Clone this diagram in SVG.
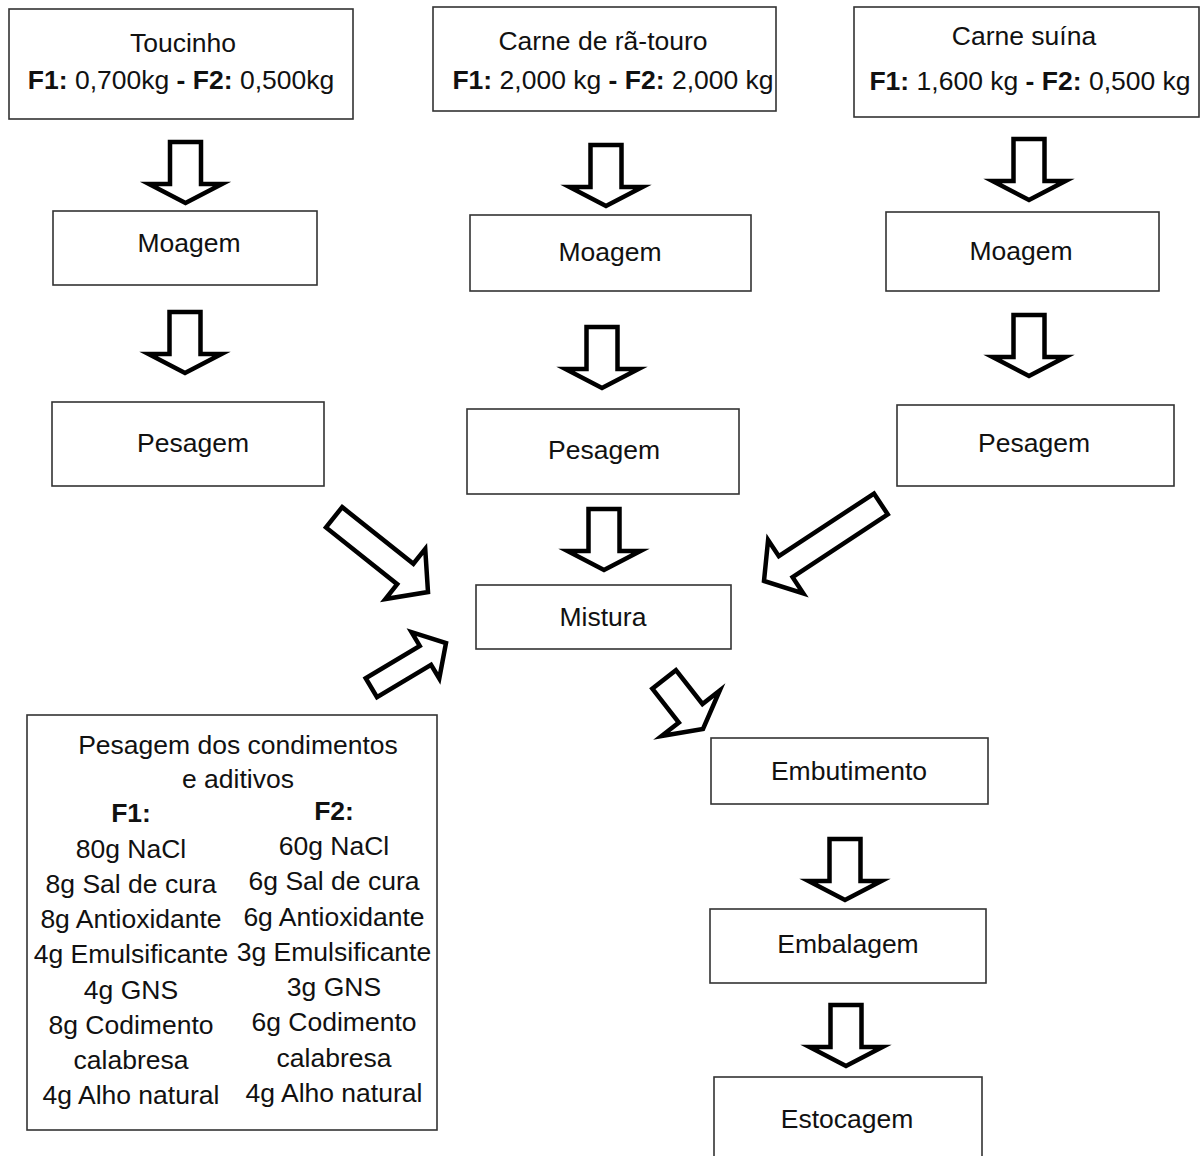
<svg xmlns="http://www.w3.org/2000/svg" width="1202" height="1156" viewBox="0 0 1202 1156">
<style>
.box{fill:#fff;stroke:#333;stroke-width:1.6}
.t{font-family:"Liberation Sans",Arial,sans-serif;font-size:26.5px;fill:#111;text-anchor:middle}
.b{font-weight:bold}
.arr{fill:#fff;stroke:#000;stroke-width:4.5;stroke-linejoin:miter;stroke-miterlimit:10}
</style>
<defs>
<path id="down" d="M-15.5,0 H15.5 V42 H36.5 L0,61 L-36.5,42 H-15.5 Z"/>
</defs>
<rect width="1202" height="1156" fill="#fff"/>
<g id="connectors">
<use href="#down" class="arr" transform="translate(185.5,142)"/>
<use href="#down" class="arr" transform="translate(606,145)"/>
<use href="#down" class="arr" transform="translate(1029,139)"/>
<use href="#down" class="arr" transform="translate(185,312)"/>
<use href="#down" class="arr" transform="translate(602,327)"/>
<use href="#down" class="arr" transform="translate(1029,315)"/>
<use href="#down" class="arr" transform="translate(604,509)"/>
<use href="#down" class="arr" transform="translate(845,839)"/>
<use href="#down" class="arr" transform="translate(846,1005)"/>
<path class="arr" transform="translate(428,592) rotate(38.5)" d="M-120,-13 H-29 V-32 L0,0 L-29,32 V13 H-120 Z"/>
<path class="arr" transform="translate(764,581) rotate(146.6)" d="M-140,-12.5 H-26 V-32 L0,0 L-26,32 V12.5 H-140 Z"/>
<path class="arr" transform="translate(446,643) rotate(-30.9)" d="M-87,-11 H-24 V-27 L0,0 L-24,27 V11 H-87 Z"/>
<path class="arr" transform="translate(703,729) rotate(51.9)" d="M-63,-15 H-20 V-37 L0,0 L-20,37 V15 H-63 Z"/>
</g>
<g id="toucinho">
<rect class="box" x="9" y="9" width="344" height="110"/>
<text class="t" x="183" y="52">Toucinho</text>
<text class="t" x="181" y="89"><tspan class="b">F1:</tspan> 0,700kg <tspan class="b">-</tspan> <tspan class="b">F2:</tspan> 0,500kg</text>
</g>
<g id="carne-ra">
<rect class="box" x="433" y="7" width="343" height="104"/>
<text class="t" x="603" y="50">Carne de rã-touro</text>
<text class="t" x="613" y="89"><tspan class="b">F1:</tspan> 2,000 kg <tspan class="b">-</tspan> <tspan class="b">F2:</tspan> 2,000 kg</text>
</g>
<g id="carne-suina">
<rect class="box" x="854" y="7" width="345" height="110"/>
<text class="t" x="1024" y="45">Carne suína</text>
<text class="t" x="1030" y="90"><tspan class="b">F1:</tspan> 1,600 kg <tspan class="b">-</tspan> <tspan class="b">F2:</tspan> 0,500 kg</text>
</g>
<g id="moagem-1">
<rect class="box" x="53" y="211" width="264" height="74"/>
<text class="t" x="189" y="252">Moagem</text>
</g>
<g id="moagem-2">
<rect class="box" x="470" y="215" width="281" height="76"/>
<text class="t" x="610" y="261">Moagem</text>
</g>
<g id="moagem-3">
<rect class="box" x="886" y="212" width="273" height="79"/>
<text class="t" x="1021" y="260">Moagem</text>
</g>
<g id="pesagem-1">
<rect class="box" x="52" y="402" width="272" height="84"/>
<text class="t" x="193" y="452">Pesagem</text>
</g>
<g id="pesagem-2">
<rect class="box" x="467" y="409" width="272" height="85"/>
<text class="t" x="604" y="459">Pesagem</text>
</g>
<g id="pesagem-3">
<rect class="box" x="897" y="405" width="277" height="81"/>
<text class="t" x="1034" y="452">Pesagem</text>
</g>
<g id="mistura">
<rect class="box" x="476" y="585" width="255" height="64"/>
<text class="t" x="603" y="626">Mistura</text>
</g>
<g id="condimentos">
<rect class="box" x="27" y="715" width="410" height="415"/>
<text class="t" x="238" y="754">Pesagem dos condimentos</text>
<text class="t" x="238" y="788">e aditivos</text>
<text class="t b" x="131" y="822">F1:</text>
<text class="t" x="131" y="858">80g NaCl</text>
<text class="t" x="131" y="893">8g Sal de cura</text>
<text class="t" x="131" y="928">8g Antioxidante</text>
<text class="t" x="131" y="963">4g Emulsificante</text>
<text class="t" x="131" y="999">4g GNS</text>
<text class="t" x="131" y="1034">8g Codimento</text>
<text class="t" x="131" y="1069">calabresa</text>
<text class="t" x="131" y="1104">4g Alho natural</text>
<text class="t b" x="334" y="820">F2:</text>
<text class="t" x="334" y="855">60g NaCl</text>
<text class="t" x="334" y="890">6g Sal de cura</text>
<text class="t" x="334" y="926">6g Antioxidante</text>
<text class="t" x="334" y="961">3g Emulsificante</text>
<text class="t" x="334" y="996">3g GNS</text>
<text class="t" x="334" y="1031">6g Codimento</text>
<text class="t" x="334" y="1067">calabresa</text>
<text class="t" x="334" y="1102">4g Alho natural</text>
</g>
<g id="embutimento">
<rect class="box" x="711" y="738" width="277" height="66"/>
<text class="t" x="849" y="780">Embutimento</text>
</g>
<g id="embalagem">
<rect class="box" x="710" y="909" width="276" height="74"/>
<text class="t" x="848" y="953">Embalagem</text>
</g>
<g id="estocagem">
<rect class="box" x="714" y="1077" width="268" height="100"/>
<text class="t" x="847" y="1128">Estocagem</text>
</g>
</svg>
